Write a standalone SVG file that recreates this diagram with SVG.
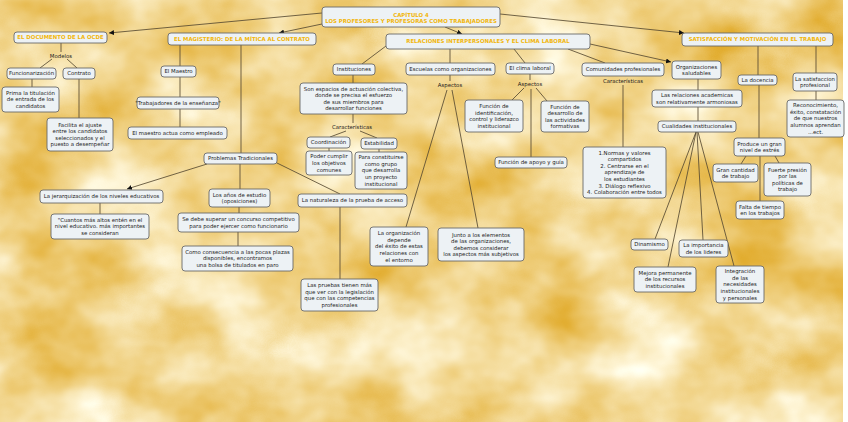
<svg xmlns="http://www.w3.org/2000/svg" width="848" height="422" viewBox="0 0 848 422">
<defs>
<filter id="tex" filterUnits="userSpaceOnUse" x="0" y="0" width="843" height="422" color-interpolation-filters="sRGB">
<feTurbulence type="fractalNoise" baseFrequency="0.010 0.013" numOctaves="4" seed="7"/>
<feColorMatrix type="matrix" values="-0.198 0 0 0 1.0495  -0.506 0 0 0 1.0965  -1.166 0 0 0 1.1515  0 0 0 0 1"/>
</filter>
<marker id="ar" viewBox="0 0 10 10" refX="10" refY="5" markerWidth="5" markerHeight="5" orient="auto" markerUnits="userSpaceOnUse">
<path d="M0,0 L10,5 L0,10 z" fill="#111"/>
</marker>
<style>
.n rect{fill:#edf2f5;stroke:#6a6a6a;stroke-width:0.9}
text{font-family:"DejaVu Sans",Verdana,sans-serif;font-size:5.4px;fill:#1c1c1c;text-anchor:middle}
.h text{font-weight:bold;fill:#f2b60c}
.c line{stroke:#574a32;stroke-width:0.85}
.c line.a{marker-end:url(#ar)}
</style>
</defs>
<rect width="848" height="422" fill="#ffffff"/>
<rect x="0" y="0" width="843" height="422" filter="url(#tex)"/>

<g id="connectors" class="c">
<line class="a" x1="322" y1="13" x2="109" y2="33"/>
<line class="a" x1="322" y1="24" x2="279" y2="33"/>
<line class="a" x1="445" y1="27" x2="462" y2="34"/>
<line class="a" x1="500" y1="14" x2="684" y2="33"/>
<line class="a" x1="590" y1="44" x2="671" y2="62"/>
<line x1="61" y1="43" x2="61" y2="52"/>
<line x1="52" y1="59" x2="40" y2="68"/>
<line x1="67" y1="59" x2="77" y2="68"/>
<line x1="32" y1="79" x2="32" y2="87"/>
<line x1="79" y1="79" x2="79" y2="118"/>
<line x1="180" y1="45" x2="180" y2="66"/>
<line x1="180" y1="77" x2="180" y2="97"/>
<line x1="180" y1="109" x2="180" y2="127"/>
<line x1="241" y1="45" x2="241" y2="153"/>
<line class="a" x1="207" y1="164" x2="127" y2="189"/>
<line x1="240" y1="164" x2="240" y2="189"/>
<line x1="277" y1="163" x2="340" y2="194"/>
<line x1="100" y1="203" x2="100" y2="214"/>
<line x1="239" y1="207" x2="239" y2="213"/>
<line x1="238" y1="232" x2="238" y2="246"/>
<line x1="340" y1="207" x2="340" y2="279"/>
<line x1="386" y1="46" x2="362" y2="64"/>
<line x1="450" y1="49" x2="450" y2="63"/>
<line x1="514" y1="49" x2="525" y2="63"/>
<line x1="568" y1="49" x2="605" y2="63"/>
<line x1="353" y1="75" x2="353" y2="83"/>
<line x1="353" y1="114" x2="353" y2="123"/>
<line x1="346" y1="131" x2="330" y2="137"/>
<line x1="360" y1="131" x2="377" y2="138"/>
<line x1="329" y1="148" x2="329" y2="151"/>
<line x1="379" y1="149" x2="379" y2="152"/>
<line x1="450" y1="75" x2="450" y2="81"/>
<line x1="447" y1="90" x2="406" y2="227"/>
<line x1="452" y1="90" x2="478" y2="228"/>
<line x1="530" y1="74" x2="530" y2="80"/>
<line x1="524" y1="88" x2="512" y2="100"/>
<line x1="536" y1="88" x2="547" y2="101"/>
<line x1="531" y1="89" x2="531" y2="157"/>
<line x1="623" y1="85" x2="623" y2="147"/>
<line x1="698" y1="79" x2="698" y2="90"/>
<line x1="698" y1="107" x2="698" y2="121"/>
<line x1="696" y1="132" x2="655" y2="239"/>
<line x1="696" y1="132" x2="668" y2="267"/>
<line x1="697" y1="132" x2="703" y2="240"/>
<line x1="698" y1="132" x2="734" y2="266"/>
<line x1="758" y1="46" x2="758" y2="75"/>
<line x1="759" y1="85" x2="759" y2="138"/>
<line x1="816" y1="46" x2="816" y2="73"/>
<line x1="816" y1="91" x2="816" y2="100"/>
<line x1="746" y1="156" x2="741" y2="164"/>
<line x1="775" y1="156" x2="779" y2="163"/>
<line x1="760" y1="156" x2="760" y2="201"/>
</g>

<g id="title" class="n h"><rect x="322" y="7" width="178" height="20" rx="3"/><text x="411" y="16.5">CAPÍTULO 4</text><text x="411" y="23">LOS PROFESORES Y PROFESORAS COMO TRABAJADORES</text></g>
<g id="ocde" class="n h"><rect x="14" y="32" width="93" height="11" rx="3"/><text x="60.5" y="39.4">EL DOCUMENTO DE LA OCDE</text></g>
<g id="magisterio" class="n h"><rect x="168" y="33" width="148" height="12" rx="3"/><text x="242" y="40.9">EL MAGISTERIO: DE LA MÍTICA AL CONTRATO</text></g>
<g id="relaciones" class="n h"><rect x="386" y="34" width="204" height="15" rx="3"/><text x="488" y="43.4">RELACIONES INTERPERSONALES Y EL CLIMA LABORAL</text></g>
<g id="satisfaccion" class="n h"><rect x="682" y="33" width="151" height="13" rx="3"/><text x="757.5" y="41.4">SATISFACCIÓN Y MOTIVACIÓN EN EL TRABAJO</text></g>

<g id="lbl-modelos"><text x="61" y="58">Modelos</text></g>
<g id="lbl-caracteristicas1"><text x="352" y="129">Características</text></g>
<g id="lbl-aspectos1"><text x="450" y="87">Aspectos</text></g>
<g id="lbl-aspectos2"><text x="530" y="86">Aspectos</text></g>
<g id="lbl-caracteristicas2"><text x="623" y="83">Características</text></g>

<g id="funcionarizacion" class="n"><rect x="7" y="68" width="49" height="11" rx="3"/><text x="31.5" y="75.4">Funcionarización</text></g>
<g id="contrato" class="n"><rect x="63" y="68" width="32" height="11" rx="3"/><text x="79" y="75.4">Contrato</text></g>
<g id="prima" class="n"><rect x="2" y="87" width="57" height="25" rx="3"/><text x="30.5" y="94.8">Prima la titulación</text><text x="30.5" y="101.4">de entrada de los</text><text x="30.5" y="108">candidatos</text></g>
<g id="facilita" class="n"><rect x="47" y="118" width="66" height="33" rx="3"/><text x="80" y="126.5">Facilita el ajuste</text><text x="80" y="133.1">entre los candidatos</text><text x="80" y="139.7">seleccionados y el</text><text x="80" y="146.3">puesto a desempeñar</text></g>
<g id="maestro" class="n"><rect x="161" y="66" width="35" height="11" rx="3"/><text x="178.5" y="73.4">El Maestro</text></g>
<g id="trabajadores" class="n"><rect x="137" y="97" width="82" height="12" rx="3"/><text x="178" y="104.9">"Trabajadores de la enseñanza"</text></g>
<g id="empleado" class="n"><rect x="128" y="127" width="99" height="12" rx="3"/><text x="177.5" y="134.9">El maestro actua como empleado</text></g>
<g id="problemas" class="n"><rect x="204" y="153" width="73" height="11" rx="3"/><text x="240.5" y="160.4">Problemas Tradicionales</text></g>
<g id="jerarquizacion" class="n"><rect x="40" y="190" width="123" height="13" rx="3"/><text x="101.5" y="198.4">La jerarquización de los niveles educativos</text></g>
<g id="cuantos" class="n"><rect x="51" y="214" width="98" height="25" rx="3"/><text x="100" y="221.8">"Cuantos más altos entén en el</text><text x="100" y="228.4">nivel educativo. más importantes</text><text x="100" y="235">se consideran</text></g>
<g id="anos" class="n"><rect x="209" y="189" width="61" height="18" rx="3"/><text x="239.5" y="196.6">Los años de estudio</text><text x="239.5" y="203.2">(oposiciones)</text></g>
<g id="concurso" class="n"><rect x="178" y="213" width="121" height="19" rx="3"/><text x="238.5" y="221.1">Se debe superar un concurso competitivo</text><text x="238.5" y="227.7">para poder ejercer como funcionario</text></g>
<g id="consecuencia" class="n"><rect x="182" y="246" width="111" height="25" rx="3"/><text x="237.5" y="253.8">Como consecuencia a las pocas plazas</text><text x="237.5" y="260.4">disponibles, encontramos</text><text x="237.5" y="267">una bolsa de titulados en paro</text></g>
<g id="naturaleza" class="n"><rect x="298" y="194" width="109" height="13" rx="3"/><text x="352.5" y="202.4">La naturaleza de la prueba de acceso</text></g>
<g id="pruebas" class="n"><rect x="301" y="279" width="77" height="32" rx="3"/><text x="339.5" y="287">Las pruebas tienen más</text><text x="339.5" y="293.6">que ver con la legislación</text><text x="339.5" y="300.2">que con las competencias</text><text x="339.5" y="306.8">profesionales</text></g>
<g id="instituciones" class="n"><rect x="333" y="64" width="42" height="11" rx="3"/><text x="354" y="71.4">Instituciones</text></g>
<g id="espacios" class="n"><rect x="300" y="83" width="107" height="31" rx="3"/><text x="353.5" y="90.5">Son espacios de actuación colectiva,</text><text x="353.5" y="97.1">donde se precisa el esfuerzo</text><text x="353.5" y="103.7">de sus miembros para</text><text x="353.5" y="110.3">desarrollar funciones</text></g>
<g id="coordinacion" class="n"><rect x="307" y="137" width="43" height="11" rx="3"/><text x="328.5" y="144.4">Coordinación</text></g>
<g id="estabilidad" class="n"><rect x="361" y="138" width="36" height="11" rx="3"/><text x="379" y="145.4">Estabilidad</text></g>
<g id="poder" class="n"><rect x="306" y="151" width="46" height="24" rx="3"/><text x="329" y="158.3">Poder cumplir</text><text x="329" y="164.9">los objetivos</text><text x="329" y="171.5">comunes</text></g>
<g id="constituirse" class="n"><rect x="355" y="152" width="52" height="37" rx="3"/><text x="381" y="159.2">Para constituirse</text><text x="381" y="165.8">como grupo</text><text x="381" y="172.4">que desarrolla</text><text x="381" y="179">un proyecto</text><text x="381" y="185.6">institucional</text></g>
<g id="escuelas" class="n"><rect x="406" y="63" width="89" height="12" rx="3"/><text x="450.5" y="70.9">Escuelas como organizaciones</text></g>
<g id="organizacion" class="n"><rect x="370" y="227" width="58" height="39" rx="3"/><text x="399" y="235.2">La organización</text><text x="399" y="241.8">depende</text><text x="399" y="248.4">del éxito de estas</text><text x="399" y="255">relaciones con</text><text x="399" y="261.6">el entorno</text></g>
<g id="junto" class="n"><rect x="438" y="228" width="86" height="33" rx="3"/><text x="481" y="236.5">Junto a los elementos</text><text x="481" y="243.1">de las organizaciones,</text><text x="481" y="249.7">debemos considerar</text><text x="481" y="256.3">los aspectos más subjetivos</text></g>
<g id="clima" class="n"><rect x="506" y="63" width="48" height="11" rx="3"/><text x="530" y="70.4">El clima laboral</text></g>
<g id="identificacion" class="n"><rect x="465" y="100" width="58" height="32" rx="3"/><text x="494" y="108">Función de</text><text x="494" y="114.6">identificación,</text><text x="494" y="121.2">control y liderazco</text><text x="494" y="127.8">institucional</text></g>
<g id="desarrollo" class="n"><rect x="541" y="101" width="48" height="31" rx="3"/><text x="565" y="108.5">Función de</text><text x="565" y="115.1">desarrollo de</text><text x="565" y="121.7">las actividades</text><text x="565" y="128.3">formativas</text></g>
<g id="apoyo" class="n"><rect x="495" y="157" width="72" height="11" rx="3"/><text x="531" y="164.4">Función de apoyo y guía</text></g>
<g id="comunidades" class="n"><rect x="582" y="63" width="82" height="13" rx="3"/><text x="623" y="71.4">Comunidades profesionales</text></g>
<g id="normas" class="n"><rect x="583" y="147" width="83" height="51" rx="3"/><text x="624.5" y="154.6">1.Normas y valores</text><text x="624.5" y="161.2">compartidos</text><text x="624.5" y="167.8">2. Centrarse en el</text><text x="624.5" y="174.4">aprendizaje de</text><text x="624.5" y="181">los estudiantes</text><text x="624.5" y="187.6">3. Diálogo reflexivo</text><text x="624.5" y="194.2">4. Colaboración entre todos</text></g>
<g id="saludables" class="n"><rect x="672" y="61" width="49" height="18" rx="3"/><text x="696.5" y="68.6">Organizaciones</text><text x="696.5" y="75.2">saludables</text></g>
<g id="armoniosas" class="n"><rect x="652" y="90" width="90" height="17" rx="3"/><text x="697" y="97.1">Las relaciones academicas</text><text x="697" y="103.7">son relativamente armoniosas</text></g>
<g id="cualidades" class="n"><rect x="658" y="121" width="78" height="11" rx="3"/><text x="697" y="128.4">Cualidades institucionales</text></g>
<g id="dinamismo" class="n"><rect x="631" y="239" width="37" height="11" rx="3"/><text x="649.5" y="246.4">Dinamismo</text></g>
<g id="mejora" class="n"><rect x="634" y="267" width="62" height="25" rx="3"/><text x="665" y="274.8">Mejora permanente</text><text x="665" y="281.4">de los recursos</text><text x="665" y="288">institucionales</text></g>
<g id="importancia" class="n"><rect x="679" y="240" width="49" height="17" rx="3"/><text x="703.5" y="247.1">La importancia</text><text x="703.5" y="253.7">de los lideres</text></g>
<g id="integracion" class="n"><rect x="716" y="266" width="48" height="37" rx="3"/><text x="740" y="273.2">Integración</text><text x="740" y="279.8">de las</text><text x="740" y="286.4">necesidades</text><text x="740" y="293">institucionales</text><text x="740" y="299.6">y personales</text></g>
<g id="docencia" class="n"><rect x="738" y="75" width="39" height="10" rx="3"/><text x="757.5" y="81.9">La docencia</text></g>
<g id="satisfaccion-profesional" class="n"><rect x="793" y="73" width="44" height="18" rx="3"/><text x="815" y="80.6">La satisfaccion</text><text x="815" y="87.2">profesional</text></g>
<g id="reconocimiento" class="n"><rect x="787" y="100" width="57" height="37" rx="3"/><text x="815.5" y="107.2">Reconocimiento,</text><text x="815.5" y="113.8">éxito, constatación</text><text x="815.5" y="120.4">de que nuestros</text><text x="815.5" y="127">alumnos aprendan</text><text x="815.5" y="133.6">...ect.</text></g>
<g id="estres" class="n"><rect x="734" y="138" width="51" height="18" rx="3"/><text x="759.5" y="145.6">Produce un gran</text><text x="759.5" y="152.2">nivel de estrés</text></g>
<g id="cantidad" class="n"><rect x="713" y="164" width="45" height="18" rx="3"/><text x="735.5" y="171.6">Gran cantidad</text><text x="735.5" y="178.2">de trabajo</text></g>
<g id="presion" class="n"><rect x="764" y="163" width="47" height="33" rx="3"/><text x="787.5" y="171.5">Fuerte presión</text><text x="787.5" y="178.1">por las</text><text x="787.5" y="184.7">políticas de</text><text x="787.5" y="191.3">trabajo</text></g>
<g id="falta" class="n"><rect x="736" y="201" width="48" height="18" rx="3"/><text x="760" y="208.6">Falta de tiempo</text><text x="760" y="215.2">en los trabajos</text></g>
</svg>
